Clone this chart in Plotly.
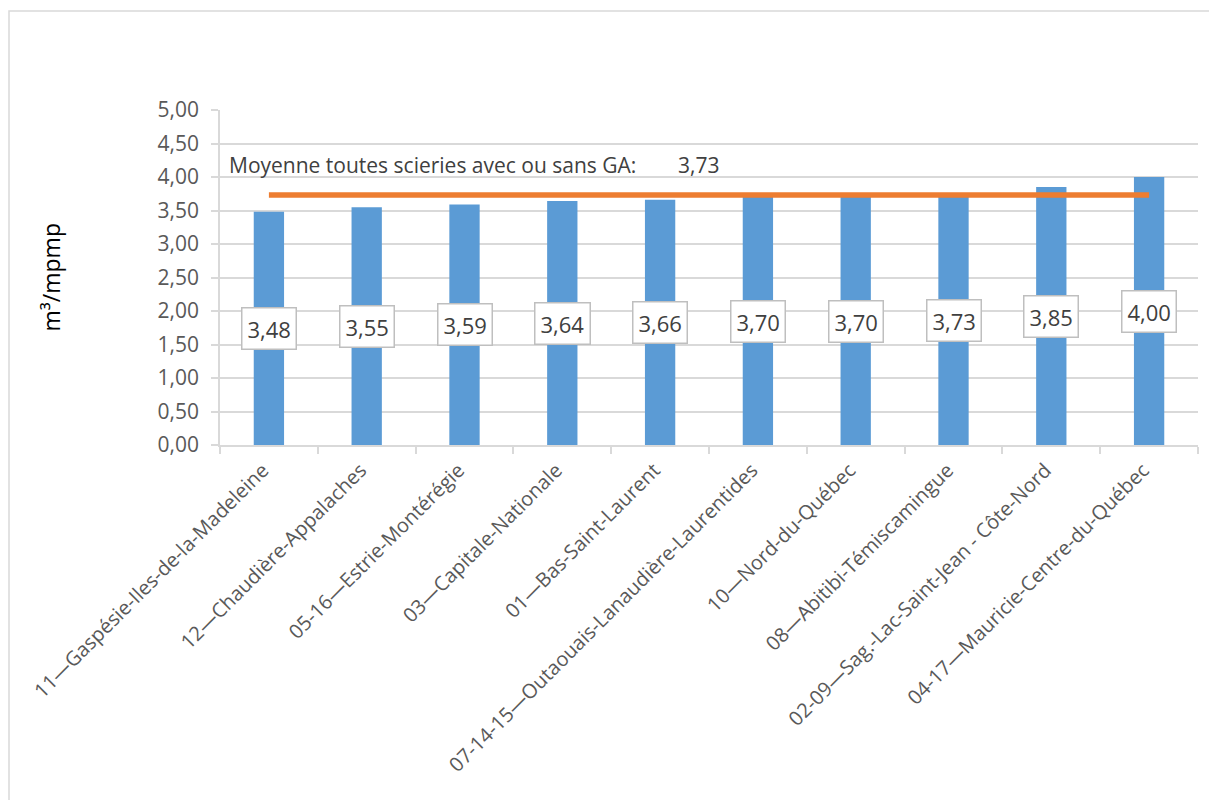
import plotly.graph_objects as go

categories = [
    "11—Gaspésie-Iles-de-la-Madeleine",
    "12—Chaudière-Appalaches",
    "05-16—Estrie-Montérégie",
    "03—Capitale-Nationale",
    "01—Bas-Saint-Laurent",
    "07-14-15—Outaouais-Lanaudière-Laurentides",
    "10—Nord-du-Québec",
    "08—Abitibi-Témiscamingue",
    "02-09—Sag.-Lac-Saint-Jean - Côte-Nord",
    "04-17—Mauricie-Centre-du-Québec",
]
values = [3.48, 3.55, 3.59, 3.64, 3.66, 3.70, 3.70, 3.73, 3.85, 4.00]
moyenne = 3.73
moyenne_label = "Moyenne toutes scieries avec ou sans GA:"
y_title = "m³/mpmp"

def fr(v):
    return f"{v:.2f}".replace(".", ",")

FONT = "Open Sans"
GREY = "#595959"
GRID = "#D9D9D9"

# page has an 8px body margin; target pixel positions are shifted accordingly
OFF = 8
W, H = 1201, 792
PL, PR, PT, PB = 220 - OFF, 1198 - OFF, 110 - OFF, 445 - OFF
PW, PH = PR - PL, PB - PT

fig = go.Figure()
fig.add_trace(go.Bar(
    x=categories, y=values,
    marker=dict(color="#5B9BD5", line=dict(width=0)),
    hoverinfo="skip",
))
fig.add_trace(go.Scatter(
    x=categories, y=[moyenne] * len(categories),
    mode="lines",
    line=dict(color="#ED7D31", width=5.5),
    hoverinfo="skip",
))

annotations = []
for c, v in zip(categories, values):
    annotations.append(dict(
        x=c, y=v / 2, xref="x", yref="y",
        text=fr(v), showarrow=False,
        font=dict(family=FONT, size=22, color="#404040"),
        bgcolor="white", bordercolor="#BFBFBF", borderwidth=1.5, borderpad=5,
    ))
annotations.append(dict(
    x=(227 - 220) / PW, y=4.18, xref="paper", yref="y",
    text=moyenne_label, showarrow=False, xanchor="left", yanchor="middle",
    font=dict(family=FONT, size=21, color="#404040"),
))
annotations.append(dict(
    x=(676 - 220) / PW, y=4.18, xref="paper", yref="y",
    text=fr(moyenne), showarrow=False, xanchor="left", yanchor="middle",
    font=dict(family=FONT, size=21, color="#404040"),
))
annotations.append(dict(
    x=(50 - 220) / PW, y=0.5, xref="paper", yref="paper",
    text=y_title, showarrow=False, textangle=-90,
    xanchor="center", yanchor="middle",
    font=dict(family=FONT, size=23, color="#000000"),
))

fig.update_layout(
    width=W, height=H,
    margin=dict(l=PL, r=W - PR, t=PT, b=H - PB),
    paper_bgcolor="white", plot_bgcolor="white",
    showlegend=False,
    bargap=0.69,
    separators=", ",
    annotations=annotations,
    shapes=[dict(
        type="rect", xref="paper", yref="paper",
        x0=(9 - 220) / PW, x1=1.2, y0=-1.5, y1=(445 - 11) / PH,
        line=dict(color=GRID, width=1.5), fillcolor="rgba(0,0,0,0)", layer="below",
    )],
    font=dict(family=FONT, color=GREY),
)
fig.update_xaxes(
    showline=True, linecolor=GRID, linewidth=1.5,
    ticks="outside", tickson="boundaries", ticklen=7, tickcolor=GRID, tickwidth=1.5,
    tickangle=-45, tickfont=dict(family=FONT, size=20, color=GREY),
    ticklabelshift=-6, ticklabelstandoff=4,
    showgrid=False,
)
fig.update_yaxes(
    range=[0, 5], dtick=0.5, tickformat=".2f",
    showline=True, linecolor=GRID, linewidth=1.5,
    ticks="outside", ticklen=7, tickcolor=GRID, tickwidth=1.5,
    ticklabelstandoff=8,
    showgrid=True, gridcolor=GRID, gridwidth=1.5,
    zeroline=False,
    tickfont=dict(family=FONT, size=21, color=GREY),
)

fig.write_html("out.html")
